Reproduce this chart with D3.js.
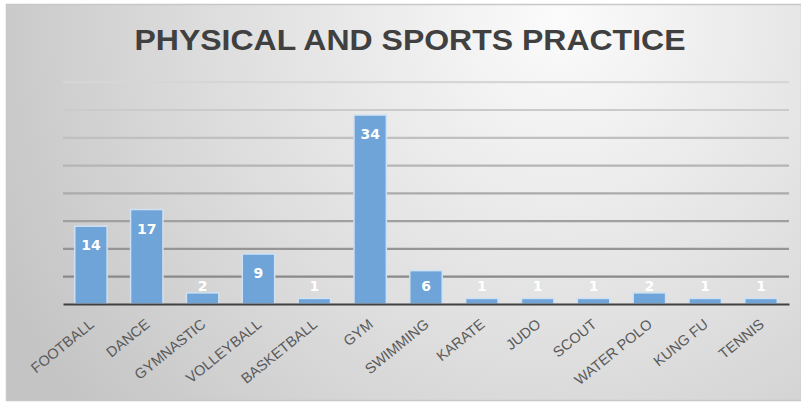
<!DOCTYPE html>
<html><head><meta charset="utf-8">
<script src="https://cdn.jsdelivr.net/npm/d3@7"></script>
<style>body{margin:0;background:#fff}svg{display:block}</style>
</head><body>
<script>
const categories = ["FOOTBALL","DANCE","GYMNASTIC","VOLLEYBALL","BASKETBALL","GYM","SWIMMING","KARATE","JUDO","SCOUT","WATER POLO","KUNG FU","TENNIS"];
const values = [14,17,2,9,1,34,6,1,1,1,2,1,1];
const gridTicks = [0,5,10,15,20,25,30,35,40];
const title = "PHYSICAL AND SPORTS PRACTICE";

const W = 801, H = 403;
const svg = d3.select("body").append("svg").attr("width", W).attr("height", H);
const defs = svg.append("defs");
const rg = defs.append("radialGradient").attr("id","bg")
  .attr("gradientUnits","userSpaceOnUse").attr("cx",560).attr("cy",20).attr("r",620);
rg.append("stop").attr("offset","0%").attr("stop-color","#fbfbfb");
rg.append("stop").attr("offset","55%").attr("stop-color","#dedede");
rg.append("stop").attr("offset","100%").attr("stop-color","#c4c4c4");

svg.append("rect").attr("x",6.5).attr("y",4.5).attr("width",W-6).attr("height",396)
  .attr("fill","url(#bg)").attr("stroke","#c8c8c8").attr("stroke-width",1.5);

const m = {left:63, right:789, top:81.7, bottom:304};
const x = d3.scaleBand().domain(categories).range([m.left, m.right]).paddingInner(0.42).paddingOuter(0.21);
const y = d3.scaleLinear().domain([0,40]).range([m.bottom, m.top]);

const gridColor = d3.scaleLinear().domain([5,40]).range(["#8a8a8a","#d6d6d6"]);
const grid = svg.append("g").call(d3.axisLeft(y).tickValues(gridTicks.slice(1)).tickSize(-(m.right-m.left)).tickFormat(""))
  .attr("transform",`translate(${m.left},0)`);
grid.select(".domain").remove();
grid.selectAll(".tick line").attr("stroke", d=>gridColor(d)).attr("stroke-width",2.2);

svg.append("g").selectAll("rect").data(values).join("rect")
  .attr("x",(d,i)=>x(categories[i])).attr("width",x.bandwidth())
  .attr("y",d=>y(d)).attr("height",d=>y(0)-y(d))
  .attr("fill","#6ea4d8").attr("stroke","#cfe1f2").attr("stroke-width",1.5);

svg.append("g").selectAll("text").data(values).join("text")
  .attr("x",(d,i)=>x(categories[i])+x.bandwidth()/2)
  .attr("y",d=>Math.min(y(d)+19, y(0)-18)+5)
  .attr("text-anchor","middle").attr("fill","#fff")
  .attr("font-family","DejaVu Sans").attr("font-weight","bold").attr("font-size",14)
  .text(d=>d);

const xa = svg.append("g").attr("transform",`translate(0,${m.bottom})`).call(d3.axisBottom(x).tickSize(0).tickPadding(0));
xa.select(".domain").attr("stroke","#404040").attr("stroke-width",2.2);
xa.selectAll(".tick text")
  .attr("font-family","Liberation Sans").attr("font-size",14.5).attr("fill","#595959")
  .attr("text-anchor","end").attr("dy",null).attr("y",0)
  .attr("transform","translate(4,22) rotate(-39)");

svg.append("text").attr("x",410).attr("y",50).attr("text-anchor","middle")
  .attr("font-family","Liberation Sans").attr("font-weight","bold").attr("font-size",30)
  .attr("fill","#404040").attr("textLength",551).attr("lengthAdjust","spacingAndGlyphs")
  .text(title);
</script>
</body></html>
